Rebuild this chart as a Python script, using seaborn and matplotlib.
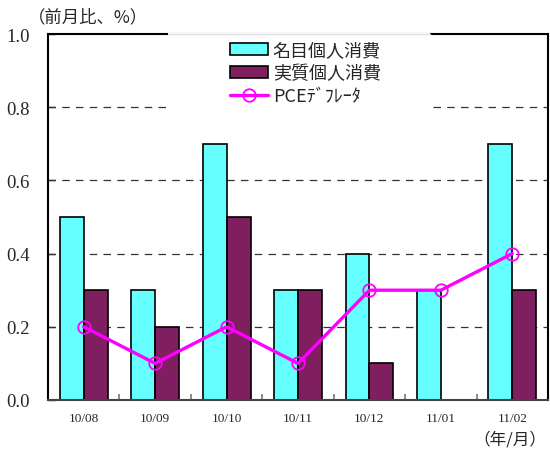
import numpy as np
import pandas as pd
import matplotlib
matplotlib.use("Agg")
import matplotlib.pyplot as plt
from matplotlib.patches import Patch, Rectangle
from matplotlib.lines import Line2D
from matplotlib.ticker import FixedLocator
import seaborn as sns

months = ["10/08", "10/09", "10/10", "10/11", "10/12", "11/01", "11/02"]
nominal = [0.5, 0.3, 0.7, 0.3, 0.4, 0.3, 0.7]
real = [0.3, 0.2, 0.5, 0.3, 0.1, np.nan, 0.3]
pce = [0.2, 0.1, 0.2, 0.1, 0.3, 0.3, 0.4]
series_names = ["名目個人消費", "実質個人消費", "PCEﾃﾞﾌﾚｰﾀ"]

sns.set_style("white")
plt.rcParams["font.family"] = ["Liberation Serif", "Noto Sans CJK JP", "DejaVu Sans"]
jp = ["Noto Sans CJK JP", "Liberation Serif"]

df = pd.DataFrame({
    "month": months * 2,
    "value": nominal + real,
    "series": [series_names[0]] * len(months) + [series_names[1]] * len(months),
})

cyan = "#66FFFF"
plum = "#7F1F5F"
magenta = "#FF00FF"

fig = plt.figure(figsize=(5.5, 4.52), dpi=100)
ax = fig.add_axes([48 / 550, 51 / 452, 500 / 550, 366 / 452])

sns.barplot(data=df, x="month", y="value", hue="series", order=months,
            hue_order=series_names[:2], palette=[cyan, plum], width=0.67,
            edgecolor="black", linewidth=1.2, saturation=1, errorbar=None,
            legend=False, ax=ax, zorder=2)

ax.plot(range(len(months)), pce, color=magenta, linewidth=2.4, marker="o",
        markersize=9, markerfacecolor="none", markeredgecolor=magenta,
        markeredgewidth=1.3, zorder=4)

ax.set_xlim(-0.5, len(months) - 0.5)
ax.set_ylim(0, 1.0)
ax.set_yticks([0.0, 0.2, 0.4, 0.6, 0.8, 1.0])
ax.set_yticklabels(["0.0", "0.2", "0.4", "0.6", "0.8", "1.0"], fontsize=13.5)
ax.set_xticks(range(len(months)))
ax.set_xticklabels(months, fontsize=9.5)
ax.tick_params(axis="x", which="major", length=0, pad=9)
ax.xaxis.set_minor_locator(FixedLocator(np.arange(0.5, len(months) - 0.5, 1)))
ax.tick_params(axis="x", which="minor", direction="in", length=4,
               width=1.2, color="#777777", bottom=True)
ax.tick_params(axis="y", direction="in", length=5, width=1, left=True, pad=13)
ax.set_xlabel("")
ax.set_ylabel("")

for y in [0.2, 0.4, 0.6, 0.8]:
    ax.axhline(y, color="#333333", linestyle=(0, (6, 5)), linewidth=0.9, zorder=1)

for side in ["left", "right", "top", "bottom"]:
    ax.spines[side].set_visible(True)
    ax.spines[side].set_color("black")
    ax.spines[side].set_linewidth(1.5)
ax.spines["bottom"].set_color("#444444")

# White panel behind the legend, covering the top frame and the 0.8 gridline
panel = Rectangle((120 / 500, 1 - 80 / 366), 262 / 500, 80 / 366 + 0.004,
                  transform=ax.transAxes, facecolor="white", edgecolor="none",
                  zorder=3, clip_on=False)
ax.add_patch(panel)
ax.plot([120 / 500, 382 / 500], [1.0, 1.0], transform=ax.transAxes,
        color="#DDDDDD", linewidth=1.0, zorder=3.5, clip_on=False)

handles = [
    Patch(facecolor=cyan, edgecolor="black", linewidth=1.2),
    Patch(facecolor=plum, edgecolor="black", linewidth=1.2),
    Line2D([0], [0], color=magenta, linewidth=2.4, marker="o", markersize=9,
           markerfacecolor="none", markeredgecolor=magenta, markeredgewidth=1.3),
]
leg = ax.legend(handles, series_names, loc="upper left",
                bbox_to_anchor=(177 / 500, 1 - 2 / 366), ncol=1, frameon=False,
                borderpad=0.3, handlelength=2.1, handleheight=0.65,
                handletextpad=0.25, labelspacing=0.28,
                borderaxespad=0, prop={"family": jp, "size": 13})
leg.set_zorder(5)

fig.text(28 / 550, 1 - 17 / 452, "（前月比、%）", family=jp, fontsize=12.5,
         va="center", ha="left")
fig.text(546 / 550, 1 - 440 / 452, "（年/月）", family=jp, fontsize=12,
         va="center", ha="right")

fig.savefig("out.png", dpi=100)
